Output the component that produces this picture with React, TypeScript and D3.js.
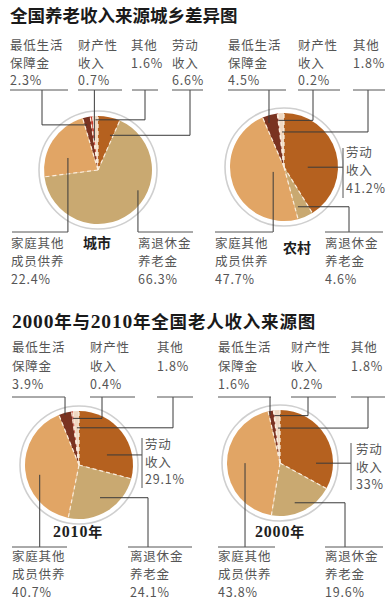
import * as d3 from "d3";

// slice order (clockwise, starting left of 12 o'clock)
const categories = ["最低生活保障金", "财产性收入", "其他", "劳动收入", "离退休金养老金", "家庭其他成员供养"];
const labelLines = [
  ["最低生活", "保障金"],
  ["财产性", "收入"],
  ["其他"],
  ["劳动", "收入"],
  ["离退休金", "养老金"],
  ["家庭其他", "成员供养"],
];
const sliceColors = ["#7a3321", "#c43a2c", "#efd8c2", "#b5611f", "#c9a971", "#e1a565"];

const cityValues = [2.3, 0.7, 1.6, 6.6, 66.3, 22.4];
const ruralValues = [4.5, 0.2, 1.8, 41.2, 4.6, 47.7];
const values2010 = [3.9, 0.4, 1.8, 29.1, 24.1, 40.7];
const values2000 = [1.6, 0.2, 1.8, 33, 19.6, 43.8];

const titleTop = "全国养老收入来源城乡差异图";
const titleBottom = "2000年与2010年全国老人收入来源图";

const CJK = "'Noto Sans CJK SC', 'Noto Sans', sans-serif";
const SERIF = "'Liberation Serif', 'DejaVu Serif', serif";

interface Slot {
  tx: number;
  ty: number;
  lh: number;
  rule?: [number, number, number];
  bar?: [number, number, number];
  ex: number | null;
  ey: number | null;
  t: number;
  k: number;
}

interface Panel {
  name: string;
  values: number[];
  cx: number;
  cy: number;
  r: number;
  nameX: number;
  nameY: number;
  slots: Slot[];
}

const panels: Panel[] = [
  {
    name: "城市", values: cityValues, cx: 98, cy: 170, r: 54, nameX: 83, nameY: 248,
    slots: [
      { tx: 10, ty: 50, lh: 17.5, rule: [10, 68, 90], ex: 42, ey: 90, t: 0.35, k: 0.86 },
      { tx: 78, ty: 50, lh: 17.5, rule: [78, 122, 90], ex: null, ey: 90, t: 0.5, k: 0.55 },
      { tx: 131, ty: 50, lh: 17.5, rule: [132, 158, 90], ex: 145, ey: 90, t: 0.5, k: 0.93 },
      { tx: 172, ty: 50, lh: 17.5, rule: [172, 203, 90], ex: 190, ey: 90, t: 0.8, k: 0.68 },
      { tx: 138, ty: 248, lh: 18, rule: [138, 193, 232], ex: null, ey: 232, t: 0.39, k: 0.83 },
      { tx: 11, ty: 248, lh: 18, rule: [12, 68, 232], ex: null, ey: 232, t: 0.36, k: 0.6 },
    ],
  },
  {
    name: "农村", values: ruralValues, cx: 284, cy: 167, r: 54, nameX: 283, nameY: 253,
    slots: [
      { tx: 228, ty: 50, lh: 17.5, rule: [228, 286, 90], ex: null, ey: 90, t: 0.28, k: 0.86 },
      { tx: 298, ty: 50, lh: 17.5, rule: [298, 340, 90], ex: 313, ey: 90, t: 0.5, k: 0.87 },
      { tx: 353, ty: 50, lh: 17.5, rule: [353, 385, 90], ex: 368, ey: 90, t: 0.5, k: 0.65 },
      { tx: 346, ty: 157, lh: 18, bar: [343, 148, 198], ex: 343, ey: null, t: 0.61, k: 0.44 },
      { tx: 325, ty: 248, lh: 18, rule: [325, 383, 232], ex: 349, ey: 232, t: 0.75, k: 0.78 },
      { tx: 215, ty: 248, lh: 18, rule: [215, 273, 232], ex: null, ey: 232, t: 0.47, k: 0.22 },
    ],
  },
  {
    name: "2010年", values: values2010, cx: 79, cy: 465, r: 54, nameX: 53, nameY: 537,
    slots: [
      { tx: 12, ty: 352, lh: 18.5, rule: [12, 65, 397], ex: null, ey: 397, t: 0.45, k: 0.96 },
      { tx: 90, ty: 352, lh: 18.5, rule: [90, 135, 397], ex: 102, ey: 397, t: 0.5, k: 0.87 },
      { tx: 157, ty: 352, lh: 18.5, rule: [157, 193, 397], ex: 173, ey: 397, t: 0.5, k: 0.69 },
      { tx: 145, ty: 449, lh: 17.5, bar: [142, 438, 488], ex: 142, ey: null, t: 0.67, k: 0.55 },
      { tx: 130, ty: 561, lh: 18, rule: [128, 192, 547], ex: 148, ey: 547, t: 0.49, k: 0.72 },
      { tx: 12, ty: 561, lh: 18, rule: [12, 67, 547], ex: null, ey: 547, t: 0.44, k: 0.75 },
    ],
  },
  {
    name: "2000年", values: values2000, cx: 280, cy: 463, r: 53, nameX: 255, nameY: 537,
    slots: [
      { tx: 218, ty: 352, lh: 18.5, rule: [218, 271, 397], ex: null, ey: 397, t: 0.2, k: 0.92 },
      { tx: 291, ty: 352, lh: 18.5, rule: [291, 336, 397], ex: 308, ey: 397, t: 0.5, k: 0.9 },
      { tx: 351, ty: 352, lh: 18.5, rule: [351, 385, 397], ex: 368, ey: 397, t: 0.5, k: 0.66 },
      { tx: 356, ty: 454, lh: 17.5, bar: [351, 443, 490], ex: 351, ey: null, t: 0.76, k: 0.68 },
      { tx: 325, ty: 561, lh: 18, rule: [325, 383, 547], ex: 345, ey: 547, t: 0.58, k: 0.8 },
      { tx: 218, ty: 561, lh: 18, rule: [218, 275, 547], ex: null, ey: 547, t: 0.51, k: 0.66 },
    ],
  },
];

// split a string into digit runs (serif) and the rest (CJK bold)
function MixedText({ text, size, spacing = 0 }: { text: string; size: number; spacing?: number }) {
  const parts = text.match(/[0-9]+|[^0-9]+/g) ?? [];
  return (
    <>
      {parts.map((p, i) =>
        /[0-9]/.test(p) ? (
          <tspan key={i} fontFamily={SERIF} fontSize={size + 2} fontWeight={700} letterSpacing={0.8}>
            {p}
          </tspan>
        ) : (
          <tspan key={i} fontFamily={CJK} fontSize={size} fontWeight={700} letterSpacing={spacing}>
            {p}
          </tspan>
        )
      )}
    </>
  );
}

function PiePanel({ panel }: { panel: Panel }) {
  const { values, cx, cy, r, slots } = panel;
  const total = d3.sum(values);
  const start = (-2 * Math.PI * d3.sum(values.slice(0, 3))) / total;
  const arcs = d3
    .pie<number>()
    .sort(null)
    .value((d) => d)
    .startAngle(start)
    .endAngle(start + 2 * Math.PI)(values);
  const arc = d3.arc<d3.PieArcDatum<number>>().innerRadius(0).outerRadius(r);

  const polar = (a: number, rad: number): [number, number] => [cx + rad * Math.sin(a), cy - rad * Math.cos(a)];

  return (
    <g>
      <circle cx={cx} cy={cy} r={r + 5} fill="#fff" stroke="#cfcfcf" strokeWidth={1.6} />
      <g transform={`translate(${cx},${cy})`}>
        {arcs.map((d, i) => (
          <path key={categories[i]} d={arc(d) ?? ""} fill={sliceColors[i]} />
        ))}
      </g>
      {arcs.map((d, i) => {
        const [x, y] = polar(d.startAngle, r);
        return (
          <line key={"b" + i} x1={cx} y1={cy} x2={x} y2={y} stroke="#fbeede" strokeWidth={1.2} strokeDasharray="4 3" />
        );
      })}
      {arcs.map((d, i) => {
        const s = slots[i];
        const a = d.startAngle + s.t * (d.endAngle - d.startAngle);
        const [px, py] = polar(a, s.k * r);
        const p = d3.path();
        p.moveTo(px, py);
        if (s.ex !== null) p.lineTo(s.ex, py);
        if (s.ey !== null) p.lineTo(s.ex ?? px, s.ey);
        const lines = [...labelLines[i], `${values[i]}%`];
        return (
          <g key={"l" + i}>
            <path d={p.toString()} fill="none" stroke="#3a3a3a" strokeWidth={1} />
            {s.rule && (
              <line x1={s.rule[0]} x2={s.rule[1]} y1={s.rule[2]} y2={s.rule[2]} stroke="#555" strokeWidth={1} />
            )}
            {s.bar && <line x1={s.bar[0]} x2={s.bar[0]} y1={s.bar[1]} y2={s.bar[2]} stroke="#555" strokeWidth={1} />}
            <text x={s.tx} y={s.ty} fontFamily={CJK} fontSize={12.5} letterSpacing={0.8} fill="#555">
              {lines.map((ln, j) => (
                <tspan key={j} x={s.tx} y={s.ty + j * s.lh}>
                  {ln}
                </tspan>
              ))}
            </text>
          </g>
        );
      })}
      <text x={panel.nameX} y={panel.nameY} fill="#1e1e1e">
        <MixedText text={panel.name} size={14} />
      </text>
    </g>
  );
}

export default function App() {
  return (
    <svg
      width={386}
      height={600}
      style={{ position: "absolute", left: 0, top: 0, background: "#fff" }}
    >
      <text x={10} y={22} fontFamily={CJK} fontSize={17.5} fontWeight={700} fill="#1a1a1a">
        {titleTop}
      </text>
      <text x={12} y={328} fill="#1a1a1a">
        <MixedText text={titleBottom} size={17.5} spacing={0.8} />
      </text>
      {panels.map((p) => (
        <PiePanel key={p.name} panel={p} />
      ))}
    </svg>
  );
}
